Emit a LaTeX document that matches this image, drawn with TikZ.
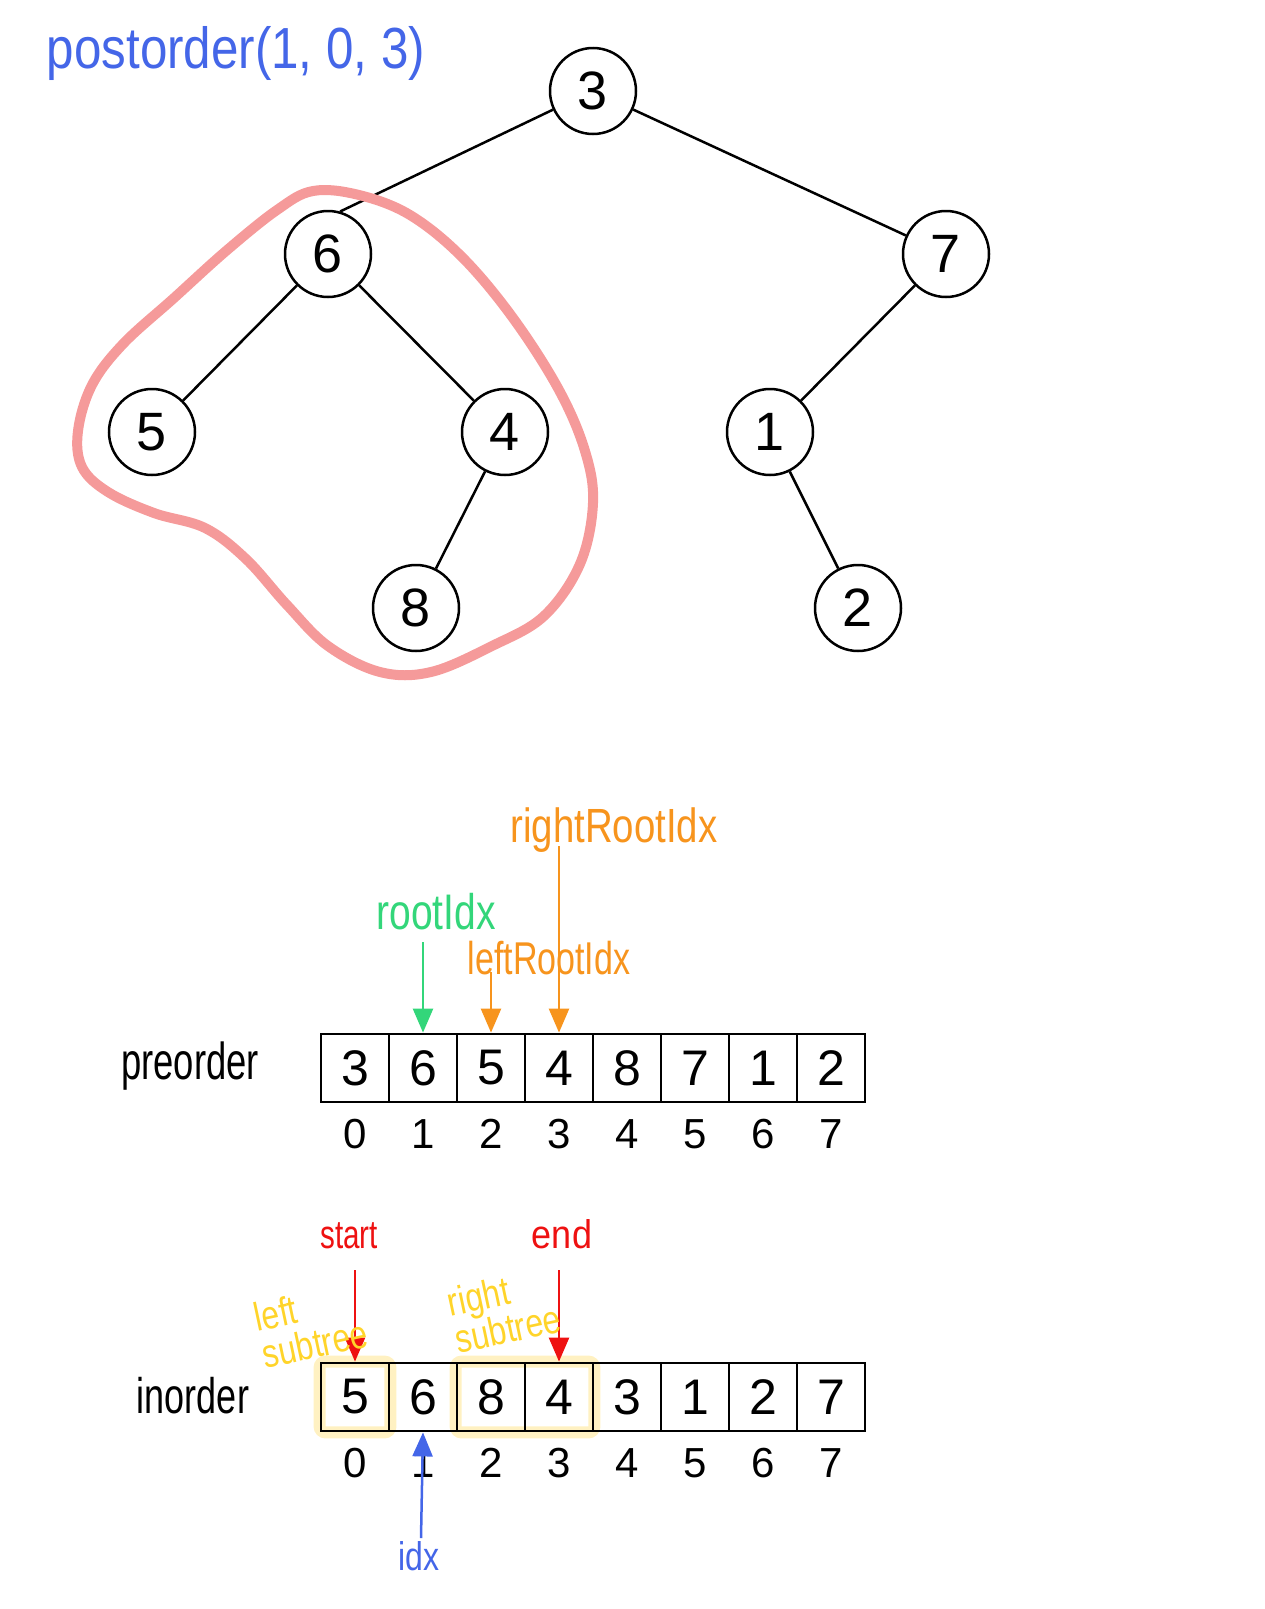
\documentclass[tikz,border=0pt]{standalone}
\usepackage{fontspec}
\setmainfont{Liberation Sans}
\usetikzlibrary{arrows.meta,backgrounds}
\definecolor{inkblue}{HTML}{4466E8}
\definecolor{inkgreen}{HTML}{33D67A}
\definecolor{inkorange}{HTML}{F7941D}
\definecolor{inkred}{HTML}{EE1111}
\definecolor{inkyellow}{HTML}{FFD42A}
\definecolor{hilite}{HTML}{FFF1C2}
\definecolor{blob}{HTML}{F59A9A}
\newcommand{\squeeze}[2]{\scalebox{#1}[1]{#2}}
\begin{document}
\begin{tikzpicture}[x=1pt,y=-1pt,
  treenode/.style={circle,draw,line width=2.5pt,minimum size=86pt,inner sep=0pt,font=\fontsize{54}{58}\selectfont},
  edge/.style={line width=2.5pt},
  cell/.style={rectangle,draw,line width=2.8pt,minimum width=68pt,minimum height=68pt,inner sep=0pt,font=\fontsize{50}{54}\selectfont},
  idxlabel/.style={inner sep=0pt,font=\fontsize{42}{46}\selectfont},
  hand/.style={inner sep=0pt,font=\fontsize{46}{50}\selectfont},
  pointer/.style={line width=2.5pt,-{Triangle[width=20pt,length=24pt]}},
  band/.style={draw=hilite,line width=12pt,rounded corners=6pt}]
\useasboundingbox (0,0) rectangle (1265,1609);

% call label
\node[hand,text=inkblue,font=\fontsize{58}{62}\selectfont] (call) at (236,54) {\squeeze{0.85}{postorder(1, 0, 3)}};

% tree
\node[treenode] (n3) at (593,91) {3};
\node[treenode] (n6) at (328,254) {6};
\node[treenode] (n7) at (946,254) {7};
\node[treenode] (n5) at (152,432) {5};
\node[treenode] (n4) at (505,432) {4};
\node[treenode] (n1) at (770,432) {1};
\node[treenode] (n8) at (416,608) {8};
\node[treenode] (n2) at (858,608) {2};
\draw[edge] (n3.205) -- (n6.74);
\draw[edge] (n3) -- (n7);
\draw[edge] (n6) -- (n5);
\draw[edge] (n6) -- (n4);
\draw[edge] (n4) -- (n8);
\draw[edge] (n7) -- (n1);
\draw[edge] (n1) -- (n2);

% outline round the left subtree
\draw[blob,line width=10pt,line join=round] plot[smooth cycle,tension=0.6] coordinates {
  (313,191) (277,210) (226,251) (174,298) (123,344) (92,385) (78,431) (82,467)
  (108,492) (154,513) (205,528) (246,559) (287,605) (328,646) (380,672) (431,672)
  (492,646) (544,616) (580,564) (593,503) (585,451) (559,390) (513,318) (462,257)
  (410,215) (359,195)};

% preorder array
\node[hand,font=\fontsize{52}{56}\selectfont] (prelabel) at (190,1066) {\squeeze{0.7}{preorder}};
\foreach \v [count=\i from 0] in {3,6,5,4,8,7,1,2} {
  \node[cell] (p\i) at (355+68*\i,1068) {\v};
  \node[idxlabel] (pi\i) at (355+68*\i,1134) {\i};
}

% inorder array
\node[hand,font=\fontsize{50}{54}\selectfont] (inlabel) at (193,1396) {\squeeze{0.72}{inorder}};
\foreach \v [count=\i from 0] in {5,6,8,4,3,1,2,7} {
  \node[cell] (q\i) at (355+68*\i,1397) {\v};
  \node[idxlabel] (qi\i) at (355+68*\i,1463) {\i};
}
\begin{pgfonlayer}{background}
  \draw[band] (q0.north west) rectangle (q0.south east);
  \draw[band] (q2.north west) rectangle (q3.south east);
\end{pgfonlayer}

% pointers into preorder
\node[hand,text=inkgreen,font=\fontsize{50}{54}\selectfont] (rootidx) at (436,912) {\squeeze{0.78}{rootIdx}};
\coordinate (rootidxs) at (423,942);
\draw[pointer,inkgreen] (rootidxs) -- (p1.north);
\node[hand,text=inkorange] (leftidx) at (549,958) {\squeeze{0.74}{leftRootIdx}};
\coordinate (leftidxs) at (491,972);
\draw[pointer,inkorange] (leftidxs) -- (p2.north);
\node[hand,text=inkorange,font=\fontsize{48}{52}\selectfont] (rightidx) at (614,830) {\squeeze{0.8}{rightRootIdx}};
\coordinate (rightidxs) at (559,846);
\draw[pointer,inkorange] (rightidxs) -- (p3.north);

% pointers into inorder
\node[hand,text=inkred,font=\fontsize{40}{44}\selectfont] (start) at (349,1236) {\squeeze{0.74}{start}};
\coordinate (starts) at (355,1270);
\draw[pointer,inkred] (starts) -- (q0.north);
\node[hand,text=inkred,font=\fontsize{40}{44}\selectfont] (end) at (562,1234) {\squeeze{0.9}{end}};
\coordinate (ends) at (559,1270);
\draw[pointer,inkred] (ends) -- (q3.north);
\node[hand,text=inkblue,font=\fontsize{40}{44}\selectfont] (idx) at (419,1556) {\squeeze{0.8}{idx}};
\coordinate (idxs) at (421,1538);
\draw[pointer,inkblue] (idxs) -- (q1.south);

% subtree notes
\node[hand,text=inkyellow,font=\fontsize{40}{38}\selectfont,align=left,rotate=12] (lsub) at (311,1325) {\squeeze{0.8}{left}\\\squeeze{0.8}{subtree}};
\node[hand,text=inkyellow,font=\fontsize{40}{38}\selectfont,align=left,rotate=12] (rsub) at (504,1310) {\squeeze{0.8}{right}\\\squeeze{0.8}{subtree}};
\end{tikzpicture}
\end{document}
